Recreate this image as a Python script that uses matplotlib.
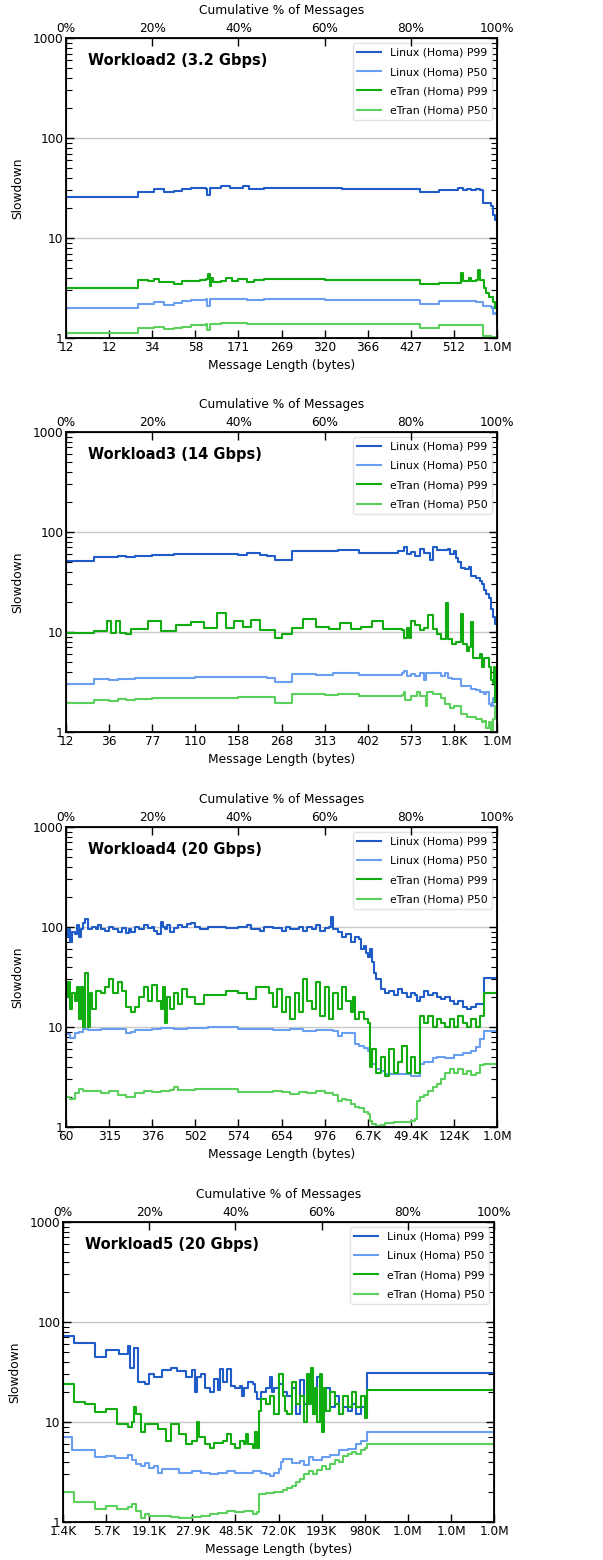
import numpy as np
import matplotlib
matplotlib.use('Agg')
import matplotlib.pyplot as plt
from matplotlib.ticker import FixedLocator, FuncFormatter, LogLocator, NullFormatter

# series are (cumulative %, slowdown) step points
series_names = ['Linux (Homa) P99', 'Linux (Homa) P50', 'eTran (Homa) P99', 'eTran (Homa) P50']
series_colors = ['#1f5cc8', '#6a9ef0', '#10ac10', '#5cd05c']

titles = ['Workload2 (3.2 Gbps)', 'Workload3 (14 Gbps)', 'Workload4 (20 Gbps)', 'Workload5 (20 Gbps)']

w2_labels = ['12', '12', '34', '58', '171', '269', '320', '366', '427', '512', '1.0M']
w3_labels = ['12', '36', '77', '110', '158', '268', '313', '402', '573', '1.8K', '1.0M']
w4_labels = ['60', '315', '376', '502', '574', '654', '976', '6.7K', '49.4K', '124K', '1.0M']
w5_labels = ['1.4K', '5.7K', '19.1K', '27.9K', '48.5K', '72.0K', '193K', '980K', '1.0M', '1.0M', '1.0M']

w2_linux_p99 = [(0, 26), (16.8, 29), (20.3, 31), (22.8, 29), (25, 29.5), (27, 31), (29, 32), (32.5, 31),
                (32.8, 27), (33.3, 32), (36, 33), (38, 32), (41, 33), (42.5, 31), (46, 32), (50, 32),
                (60, 31.5), (64, 31), (82, 29), (86.5, 30.5), (91, 31.5), (92, 30), (93, 31), (94, 30),
                (95, 31), (96, 30), (96.8, 22.5), (98.5, 21), (99, 17), (99.5, 15), (99.9, 11), (100, 11)]
w2_linux_p50 = [(0, 2.0), (16.8, 2.2), (20.3, 2.3), (22.8, 2.15), (25, 2.25), (27, 2.35), (29, 2.4),
                (32.5, 2.45), (32.8, 2.1), (33.3, 2.45), (36, 2.45), (42, 2.4), (46, 2.45), (60, 2.4),
                (82, 2.2), (86.5, 2.35), (95, 2.3), (96.8, 2.1), (98.5, 2.05), (99, 1.75), (99.5, 1.8),
                (100, 1.8)]
w2_etran_p99 = [(0, 3.15), (16.8, 3.8), (19, 3.7), (20.3, 3.9), (21.5, 3.6), (25, 3.5), (27, 3.75),
                (29, 3.7), (31, 3.85), (32.5, 3.9), (33, 4.4), (33.3, 3.3), (33.6, 4.0), (34, 3.6),
                (36, 3.7), (37, 4.0), (38.5, 3.7), (40, 3.9), (42, 3.6), (43.5, 3.8), (46, 3.9),
                (60, 3.8), (70, 3.85), (82, 3.5), (86.5, 3.55), (91.5, 4.5), (92, 3.7), (93.5, 4.0),
                (94, 3.7), (95, 3.8), (95.5, 4.8), (96, 3.8), (97, 3.2), (97.5, 2.8), (98, 2.6),
                (99, 2.3), (99.5, 2.0), (100, 1.4)]
w2_etran_p50 = [(0, 1.13), (16.8, 1.27), (20.3, 1.3), (22.8, 1.22), (25, 1.25), (27, 1.3), (29, 1.35),
                (32.5, 1.38), (32.8, 1.2), (33.3, 1.38), (36, 1.4), (42, 1.37), (46, 1.38), (60, 1.37),
                (82, 1.27), (86.5, 1.35), (96.8, 1.05), (98.5, 1.02), (100, 1.02)]

w3_linux_p99 = [(0, 51), (6.5, 56), (12, 58), (14, 56), (16, 58), (20, 59), (25, 60), (30, 60.5),
                (40, 59), (42, 61), (45, 59), (46.6, 58), (48.5, 53), (52.5, 65), (60, 64), (63, 66),
                (68, 62), (77, 65), (78.5, 70), (79, 60), (80, 63), (81, 57), (82, 68), (83, 62),
                (84.5, 52), (85, 70), (86, 66), (88.5, 68), (89, 60), (90, 65), (90.5, 55), (91, 50),
                (91.5, 44), (92.5, 43), (93.5, 45), (94, 36), (95, 35), (96, 32), (96.5, 30), (97, 26),
                (97.5, 24), (98, 22), (98.5, 17), (99, 14), (99.5, 12), (100, 9)]
w3_linux_p50 = [(0, 3.05), (6.5, 3.35), (10, 3.3), (12, 3.4), (16, 3.45), (22, 3.5), (30, 3.55),
                (40, 3.55), (46.6, 3.5), (48.5, 3.15), (52.5, 3.8), (58, 3.75), (62, 3.85), (68, 3.75),
                (78, 3.85), (78.5, 4.1), (79, 3.6), (80, 3.8), (81, 3.6), (82, 3.9), (83, 3.3),
                (83.5, 3.9), (85, 3.85), (87, 3.6), (88, 3.9), (88.5, 3.5), (89.5, 3.4), (91.5, 2.9),
                (93, 2.85), (94, 2.7), (95, 2.65), (96, 2.5), (97, 2.4), (97.5, 2.5), (98, 1.9),
                (98.5, 1.8), (99, 2.2), (100, 3)]
w3_etran_p99 = [(0, 9.7), (6.5, 10.2), (9.5, 13), (10.5, 9.8), (11.5, 13), (12.5, 9.8), (14, 9.6),
                (15, 10.8), (19, 13), (22, 10.2), (25.5, 11.8), (29, 12.7), (32, 11), (35, 15.5),
                (37, 11), (39, 12.9), (41, 11.3), (43, 13.3), (45, 10.5), (48.5, 8.8), (50, 9.5),
                (52.5, 11), (55, 13.5), (58, 11.3), (61, 10.6), (63.5, 12.3), (66, 10.8), (68.5, 11.2),
                (71, 12.8), (73.5, 10.8), (78, 10.4), (78.5, 8.8), (79, 11), (79.5, 8.8), (80, 13),
                (81, 11.8), (82, 10.5), (83, 11), (84, 14.8), (85, 10.7), (86, 9.5), (87, 8.5),
                (88.2, 19.5), (88.6, 8.5), (89.5, 7.5), (90.5, 8), (91.5, 15), (92, 7.5), (93, 6.5),
                (93.5, 7), (94, 12.5), (94.3, 5.5), (95, 5.5), (96, 6), (96.5, 4.5), (97, 5.5),
                (98, 4.5), (98.5, 3.3), (99, 3.1), (99.3, 4.5), (99.6, 2), (100, 5)]
w3_etran_p50 = [(0, 1.95), (6.5, 2.1), (10, 2.05), (12, 2.15), (14, 2.1), (16, 2.15), (20, 2.2),
                (30, 2.2), (40, 2.25), (48.5, 1.97), (52.5, 2.4), (60, 2.35), (63, 2.4), (68, 2.3),
                (78, 2.35), (78.3, 2.5), (78.6, 2.1), (80, 2.3), (81.5, 2.5), (82, 2.3), (83.5, 1.8),
                (83.8, 2.5), (85, 2.4), (87, 2.2), (88, 1.9), (89, 1.75), (90, 1.8), (91.5, 1.5),
                (93, 1.4), (95, 1.35), (96.5, 1.25), (97, 1.3), (97.5, 1.1), (98, 1.25), (98.5, 1.05),
                (99, 1.35), (99.5, 1.8), (100, 1.8)]

w4_linux_p99 = [(0, 80), (0.5, 95), (1, 70), (1.5, 90), (2, 85), (2.5, 105), (3, 80), (3.5, 95),
                (4, 110), (4.5, 120), (5, 95), (6, 100), (7, 95), (7.5, 105), (8, 95), (9, 92),
                (10, 100), (11, 95), (12, 90), (13, 98), (14, 88), (14.5, 95), (15, 90), (16, 100),
                (17, 95), (18, 105), (19, 98), (20, 100), (20.5, 92), (21, 85), (22, 112), (22.5, 100),
                (23, 95), (23.5, 105), (24, 90), (25, 98), (26, 105), (27, 100), (28, 108), (29, 110),
                (30, 100), (31, 95), (33, 100), (35, 100), (37, 98), (40, 100), (42, 105), (43, 95),
                (45, 92), (46, 100), (48, 97), (50, 92), (51, 100), (52, 95), (54, 100), (55, 92),
                (56, 100), (57, 95), (58, 105), (59, 92), (60, 98), (61, 100), (61.5, 125), (62, 95),
                (63, 90), (64, 80), (65, 85), (66, 70), (67, 80), (68, 75), (68.5, 60), (69, 65),
                (69.5, 55), (70, 50), (70.5, 60), (71, 45), (71.5, 35), (72, 30), (73, 24), (74, 22),
                (75, 23), (76, 21), (77, 24), (78, 22), (79, 20), (80, 22), (81, 21), (81.5, 18),
                (82, 20), (83, 23), (84, 21), (85, 22), (86, 20), (87, 19), (88, 20), (89, 18),
                (90, 17), (91, 18), (92, 16), (93, 15), (94, 16), (95, 17), (97, 31), (100, 31)]
w4_linux_p50 = [(0, 8.5), (1, 7.8), (2, 8.6), (3, 9), (4, 9.5), (5, 9.3), (8, 9.5), (14, 8.7), (15, 9),
                (16, 9.3), (20, 9.5), (22, 9.8), (25, 9.5), (28, 9.8), (33, 10), (40, 9.5), (48, 9.4),
                (52, 9.5), (55, 9.2), (58, 9.4), (62, 9.2), (63, 8.2), (64, 8.6), (66, 8.7), (67, 6.8),
                (68, 6.5), (69, 6.1), (70, 5.8), (70.5, 4.8), (71, 4.3), (72, 3.8), (73, 3.6),
                (74, 3.4), (77, 3.4), (80, 3.2), (82, 4.3), (83, 4.5), (85, 4.9), (86, 5.0), (88, 4.9),
                (90, 5.3), (92, 5.5), (94, 5.8), (95, 6.3), (96, 7.5), (97, 9.2), (100, 9.5)]
w4_etran_p99 = [(0, 20), (0.5, 28), (1, 15), (1.5, 22), (2, 18), (2.5, 25), (3, 12), (3.5, 25), (4, 10),
                (4.5, 35), (5, 10), (5.5, 22), (6, 15), (7, 23), (8, 22), (9, 25), (10, 30), (11, 22),
                (12, 28), (13, 23), (14, 16), (15, 14), (16, 16), (17, 20), (18, 25), (19, 18),
                (20, 26), (21, 18), (22, 15), (22.5, 25), (23, 11), (23.5, 20), (24, 15), (25, 22),
                (26, 17), (27, 24), (28, 20), (30, 17), (32, 21), (37, 23), (40, 22), (42, 19),
                (44, 25), (47, 22), (48, 16), (49, 24), (50, 14), (51, 20), (52, 12), (53, 22),
                (54, 14), (55, 30), (56, 18), (57, 15), (58, 28), (59, 13), (60, 25), (61, 12),
                (62, 22), (63, 15), (64, 25), (65, 18), (66, 14), (66.5, 20), (67, 12), (68, 14),
                (69, 12), (70, 11), (70.5, 4), (71, 6), (72, 3.5), (73, 5), (74, 3.2), (75, 6),
                (76, 3.5), (77, 4.5), (78, 6.5), (79, 3.5), (80, 5), (81, 3.5), (82, 13), (83, 11),
                (84, 13), (85, 10), (86, 12), (87, 11), (88, 10), (89, 12), (90, 10), (91, 13),
                (92, 11), (93, 10), (94, 12), (95, 10), (96, 13), (97, 22), (100, 22)]
w4_etran_p50 = [(0, 2.0), (1, 1.9), (2, 2.2), (3, 2.4), (4, 2.3), (6, 2.3), (8, 2.2), (10, 2.3),
                (12, 2.1), (14, 2.0), (16, 2.2), (18, 2.3), (20, 2.25), (22, 2.3), (24, 2.35), (25, 2.5),
                (26, 2.35), (30, 2.4), (40, 2.25), (48, 2.3), (50, 2.25), (52, 2.15), (54, 2.25),
                (56, 2.2), (58, 2.3), (60, 2.2), (62, 2.1), (63, 1.8), (64, 1.9), (65, 1.85), (66, 1.7),
                (67, 1.6), (68, 1.55), (69, 1.4), (70, 1.35), (70.5, 1.15), (71, 1.08), (72, 1.03),
                (73, 1.05), (74, 1.1), (76, 1.12), (78, 1.13), (80, 1.15), (81, 1.2), (81.5, 1.8),
                (82, 2.0), (83, 2.1), (84, 2.3), (85, 2.5), (86, 2.7), (87, 3.0), (88, 3.5), (89, 3.8),
                (90, 3.5), (91, 3.8), (92, 3.4), (93, 3.6), (94, 3.3), (95, 3.5), (96, 4.2), (97, 4.3),
                (100, 4.3)]

w5_linux_p99 = [(0, 72), (2.5, 62), (7.5, 45), (10, 52), (13, 48), (15, 57), (15.5, 35), (16.5, 55),
                (17.5, 25), (19, 24), (20, 30), (21, 28), (23, 33), (25, 35), (26.5, 32), (28.5, 28),
                (30, 33), (30.5, 20), (31, 28), (32, 30), (33, 22), (34, 20), (35, 27), (36, 21),
                (36.5, 34), (37, 25), (38, 34), (39, 23), (40, 22), (41, 23), (41.5, 18), (42, 22),
                (43, 25), (44, 24), (44.5, 20), (45, 17), (46, 20), (47, 22), (48, 28), (48.5, 20),
                (49, 22), (50, 24), (51, 20), (52, 18), (53, 22), (54, 12), (55, 26), (56, 15),
                (57, 22), (58, 12), (59, 28), (60, 13), (61, 22), (62, 14), (63, 18), (64, 12),
                (65, 14), (66, 13), (67, 15), (68, 12), (69, 14), (70, 15), (70.5, 31), (100, 31)]
w5_linux_p50 = [(0, 7), (2, 5.3), (5, 5.3), (7.5, 4.5), (10, 4.6), (12, 4.4), (15, 4.7), (16, 4.2),
                (17, 3.8), (18, 3.6), (19, 3.9), (20, 3.5), (21, 3.6), (22, 3.1), (23, 3.4), (25, 3.4),
                (27, 3.1), (30, 3.2), (32, 3.1), (34, 3.0), (36, 3.1), (38, 3.2), (40, 3.1), (44, 3.2),
                (46, 3.1), (47, 3.0), (48, 2.9), (49, 3.1), (50, 3.4), (50.5, 4.0), (51, 4.3),
                (53, 3.9), (55, 4.1), (56, 3.7), (57, 4.5), (58, 4.2), (60, 4.5), (62, 4.7), (64, 5.2),
                (66, 5.4), (68, 6.0), (69, 6.4), (70.5, 8.0), (100, 8.0)]
w5_etran_p99 = [(0, 24), (2.5, 16), (5, 15), (7.5, 12.5), (10, 13.5), (12.5, 9.5), (15, 9), (16, 10),
                (16.5, 14), (17, 12), (18, 8), (19, 9.5), (22, 8.5), (24, 6.5), (25, 9.5), (27, 7.5),
                (28.5, 6), (30, 6.5), (31, 10), (31.5, 7), (33, 6), (34, 5.5), (35, 6.2), (37, 6.5),
                (38, 7.5), (39, 6.0), (40, 5.5), (41, 6.5), (42, 6.0), (42.5, 7.5), (43, 6.0),
                (44, 5.5), (44.5, 8), (45, 5.5), (45.5, 13), (46, 17), (47, 15), (48, 18), (49, 12),
                (50, 30), (51, 18), (51.5, 13), (52, 12), (53, 25), (54, 15), (55, 18), (56, 10),
                (56.5, 30), (57, 15), (57.5, 35), (58, 12), (58.5, 22), (59, 10), (59.5, 30), (60, 8),
                (60.5, 22), (61, 13), (62, 20), (63, 15), (64, 12), (65, 18), (66, 14), (67, 20),
                (68, 14), (69, 18), (70, 11), (70.5, 21), (100, 21)]
w5_etran_p50 = [(0, 2.0), (2.5, 1.6), (5, 1.6), (7.5, 1.35), (10, 1.45), (12.5, 1.35), (15, 1.4),
                (16, 1.5), (17, 1.3), (18, 1.1), (19, 1.2), (20, 1.15), (23, 1.15), (25, 1.12),
                (27, 1.1), (30, 1.12), (32, 1.15), (34, 1.2), (36, 1.22), (38, 1.3), (40, 1.25),
                (42, 1.3), (44, 1.2), (45, 1.25), (45.5, 1.9), (47, 1.95), (49, 2.0), (51, 2.1),
                (52, 2.2), (53, 2.3), (54, 2.5), (55, 2.7), (56, 3.0), (57, 3.2), (58, 3.0), (59, 3.3),
                (60, 3.6), (61, 3.4), (62, 3.8), (63, 4.2), (64, 4.0), (65, 4.6), (66, 4.8), (67, 5.0),
                (68, 4.8), (69, 5.3), (70, 5.5), (70.5, 6.0), (100, 6.0)]

panels = [
    (w2_labels, [w2_linux_p99, w2_linux_p50, w2_etran_p99, w2_etran_p50]),
    (w3_labels, [w3_linux_p99, w3_linux_p50, w3_etran_p99, w3_etran_p50]),
    (w4_labels, [w4_linux_p99, w4_linux_p50, w4_etran_p99, w4_etran_p50]),
    (w5_labels, [w5_linux_p99, w5_linux_p50, w5_etran_p99, w5_etran_p50]),
]

# axes rectangles in figure fractions (left, bottom, width, height)
rects = [(0.1095, 0.7833, 0.715, 0.1923),
         (0.1095, 0.5308, 0.715, 0.1923),
         (0.1095, 0.2776, 0.715, 0.1923),
         (0.1045, 0.0244, 0.715, 0.1923)]

fig = plt.figure(figsize=(6.03, 15.6), dpi=100)

for i, (labels, data) in enumerate(panels):
    ax = fig.add_axes(rects[i])
    for pts, name, col in zip(data, series_names, series_colors):
        arr = np.array(pts)
        ax.plot(arr[:, 0], arr[:, 1], drawstyle='steps-post', color=col, lw=1.5, label=name)

    ax.set_yscale('log')
    ax.set_ylim(1, 1000)
    ax.set_xlim(0, 100)
    ax.yaxis.set_major_locator(FixedLocator([1, 10, 100, 1000]))
    ax.yaxis.set_major_formatter(FuncFormatter(lambda v, p: '%d' % v))
    ax.yaxis.set_minor_locator(LogLocator(base=10, subs=np.arange(2, 10)))
    ax.yaxis.set_minor_formatter(NullFormatter())
    ax.set_xticks(np.arange(0, 101, 10))
    ax.set_xticklabels(labels)
    ax.tick_params(axis='both', which='major', direction='in', length=6, width=1, labelsize=8.7, pad=2)
    ax.tick_params(axis='y', which='minor', direction='in', length=4, width=0.8)
    ax.tick_params(axis='y', which='both', right=True)
    ax.grid(axis='y', which='major', color='#c8c8c8', lw=1)
    ax.set_axisbelow(True)
    for s in ax.spines.values():
        s.set_linewidth(1.3)

    ax.set_xlabel('Message Length (bytes)', fontsize=8.8, labelpad=4)
    ax.set_ylabel('Slowdown', fontsize=8.8, labelpad=6)
    ax.text(0.05, 0.925, titles[i], transform=ax.transAxes, fontsize=10.5, fontweight='bold', va='center')
    ax.legend(loc='upper right', fontsize=7.8, frameon=True, edgecolor='#dddddd',
              borderaxespad=0.5, handlelength=2.2, labelspacing=0.85)

    top = ax.twiny()
    top.set_xlim(0, 100)
    top.set_xticks(np.arange(0, 101, 20))
    top.set_xticklabels(['%d%%' % v for v in range(0, 101, 20)])
    top.tick_params(axis='x', direction='in', length=6, width=1, labelsize=8.7, pad=2)
    top.set_xlabel('Cumulative % of Messages', fontsize=8.8, labelpad=6)

fig.savefig('out.png', dpi=100)
